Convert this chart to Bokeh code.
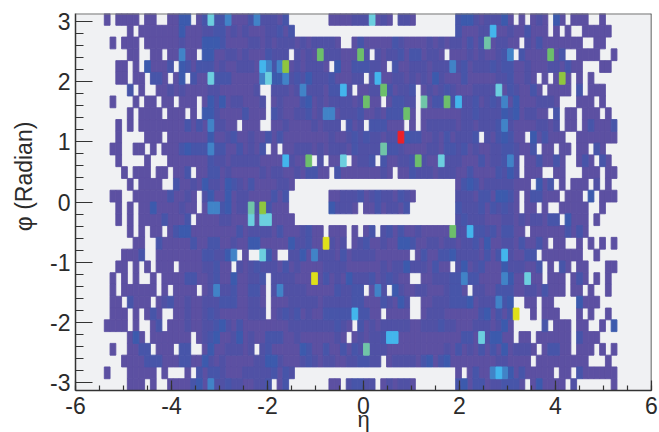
from bokeh.plotting import figure
from bokeh.models import ColumnDataSource, FixedTicker, Span
from bokeh.embed import file_html
from bokeh.resources import INLINE
import math

FIRST_COL = -45          # eta bin index of the first character in each row
ETA_BIN = 0.12
PHI_BINS = 32
D25 = "..... ..... ..... ..... ....."

# occupancy levels, row by row from phi=+pi downward ('.' = empty bin)
ROWS = [
"1.1111.11..1144.1373 | 35 111 35 222 1 3 ....... 1111 222 7 1 2 1 . 22 1 .... | ... 3 4 4 2 1 222 4 1 . 1 . 1 2 1 . 4 1 . 111 .. 1 .",
".... 1 . 1111111 4 111 22 3 | 3 1 2 1 2 111 22 3 1 3 " + D25 + " | ... 3 111 22 6 1 1 2 11 3 111 . 1 . 1 .. 11111",
". 1 . 111 . 111111 2 111 44 4 | 3 1111 22 1 2 1 222 1 2 1 2222 1 .. 1 3 11111 3 2 1111 2 1 | 2 1 2 2 1 3 1 3 8 1 2 2 1 1 . 2 1 3 1111111 .. 11 .",
".... 11 .. 11 . 11 5 11 . 44 1 | 1 22 1 2 111 3 222 . 2 1 2 1 9 222 111 9 2 . 2 1 22 3 1 33 1 22 | 1 . 111 2 1 2 11 2 3 5 . 3 1111 9 1 3 .. 1111 .. 1",
".. 11 . 1 . 4 111 3 . 4 3 1 333 1 | 2 11 222 1 6 5 3 5 a 1 2 1 2 22 1 . 4 11 333 22 1 . 3 11 2 22 1 2 | 22 5 2 3 1 222 3 2 33 11 2 111 22 1 3 11 ... 11",
".. 11 . 11 . 33 1 . 1 4 . 3 11 7 3 | 3 3 11111 5 7 44 5 2 3 2 4 222 3 111 22 . 2 6 11 22 1 2 1 2 1 4 | 2 1 1 1 3 11111 22 3 11 2 1 . 1 . 1 a 1 . 1 . 1",
".... 3 . 1 .. 11 2 1 2 1111 22 | 111111 2 .. 222 1 2 5 2 22 1 33 6 2 . 11 22 9 3 1 22 3 . 1 2 1 | 2 3 2 111 2222 7 1 3 2 11 3 1 . 1111 . 3 . 111",
". 1 ... 1 . 11 . 11 . 111 . 1 4 2 | 4 1 22 111 2 . 1 2 1 11 3 4 1 2 1 2222 1 2 9 11 . 1 33 2 2 . 8 1 3 | 3 9 3 6 22 3 1 2 3 2 5 1 4 111 222 1 ... 111 . 1",
".... 1 . 1111 . 111 . 1 . 44 2 | 1111 3 111 . 3 2 11 22 3 1 2 55 1 22 2 3 11 2 1 33 3 9 1 . 111 | 1111 22 3 2 222 4 3 4 1 22 11 . 3 . 11 . 111 . 1",
".. 1 . 1 . 11111111 3 1 3 1 5 2 | 2 11 . 111 .. 11 2 1111 2 1 222 . 3 1 2 . 333 111 . 1 . 1 22 | 222 1 22 1 222 3 5 2 1111 22 1 2 . 11 . 1 3 111 3",
".. 1 .... 111 . 1111111 4 1 | 1 2 3 11 2 11 3 1 3 11111111 2 11 2 3 2 3 22 1 22 c 4 33 11 2 | 1 3 1 222 3 . 2 1 3 4 3 11 . 4 1 3 111 .. 1111111",
". 11 .. 11 . 1 . 111 3 4 333 5 3 | 3 11 3 1 2 1 3 . 1 . 11 222 1 2 1 222 1 3 2222 8 33 2 1111 22 | 1 3 3 2 3 1 2 11 2 2 3 3 2 11 3 . 11 . 11 . 11 . 3 1",
".. 1 .... 1 ... 1111111 3 2 | 2 1 22222 1111 6 2 11 9 . 2 . 11 7 . 1 22 3 . 3 11 22 3 9 2 1 1 | 7 222 111 3 1 22 3 5 2 . 11 3 11 3 1 .. 1 3 1 . 3 1",
"... 1 . 111 . 11 . 11 3 . 11 33 | 1 2 11111 2 1 22 11 2 1 3 3 11 . 3 1111111 2 1 . 11 3 222 1 | 222 11 3 1111 3 2 4 2 . 111 .. 11 ... 111 . 11",
".... 1 . 1111 .. 3 11 2 1 4 22 | 1 4 3 2 1 3 1111 22 1 " + D25 + " | ... 1 3 4 3 1 22222 111 . 4 1 3 . 1 . 111 . 2 . 1",
". 11 .. 111111 3 11 2 1 . 2 4 1 | 1 4 1 22 1111 3 1 3 ....... 11 222 3 1 2 3 22 1 3 2 1 .... | ... 222 1 33 1 44 3 1 . 1 33 111 . 111 . 4 . 111",
".. 1 . 1 . 11 4 1111 2 11 . 1 55 | 3 4 1 22 8 2 a 3 111 ....... 4 222 1 . 11 3 1 22 1 3 ..... | ... 3 222 3 1 3 2 3 2 1 . 11 . 1 .. 11111 .. 1",
".. 1 . 1 . 1111 3 111 3 . 1111 | 22 111 7 1 77 1111 " + D25 + " | ... 2 3 222 111 22 1 2 1 22 1 33 . 4 111 . 1",
".... 1 . 1 . 11 . 1 3 4 4 11111 | 111 3 1 2222 1 3 111 2 3 11 . 111 . 1 . 1 3 . 2 3 1 3 11 2 111 | 11 9 22 6 33 2 3 1 33 11 . 111111 3 1 3 1",
"..... 11 .. 3 11111 3 11 33 | 11 2 11 44 11111 4 22 3 11 b 2 1 2 . 1 2 3 11 2 11 44 3 11 22 | 1 22 1 22 3 1 4 11 22 1 3 11 3 1 . 11 .. 1 . 1 . 1 . 1",
"... 111 3 .. 11111111 33 2 | 2 4 5 . 1 .. 7 4 1 .. 22 4 1 5 222 1 3 1 2 2 2 2 1 11111 . 1 3 11 | 3 3 4 2222 1 3 1 3 6 2 11 33 . 1111111 .. 1",
".. 11 . 1 . 1 . 111 . 1 111 2 2 3 | 11 . 2 1 2 3 2 22 1 3 1 2 1 111 2222 11 11 11 2 1 2 2 4 22 2 1 3 | 11 . 2 4 1 2 3 111 4 2 22 11 3 . 1 . 3 1 . 11 ... 11",
". 1 . 1 . 1 .. 1 . 1111 33 11 2 3 | 11 4 11 22 3 . 2222 11 1 b 1 3 1 2 1 4 222 3 1 2 3 2 11 .. 11 2 | 2 2 3 3 5 3 3 1111 5 4 11 7 11 . 111 . 1 3 1 . 1 . 1",
". 1 . 111111 . 1 . 1111 . 1 2 5 | 22 3 11 33 1 . 2 5 22 22 11111 3 22 33 . 1 5 2 . 4 2 11 22 11 | 1 2 33 1 . 22 11 333 11 22 1 3 111 . 11 . 1 .. 1",
". 11 . 3 111 . 1 2 3 11 2 11 222 | 333 11 22 1 . 111 22222 1 22222 33 111 3 2 1 4 2 .. 11 2 | 22 333 4 1 222 5 3 4 .. 11 . 11 .... 4 111",
". 111 . 1 . 1 3 1 .. 11 2 11 2 3 2 | 11111 222 . 1 2 3 2 3 1 2 11 33333 6 33 11 . 1111 .. 1 22 | 2 111 111 3 4 1 3 1 3 b .. 1 . 111 ... 1 . 1 .. 1",
"1111 . 1 .. 1 3 . 111 2 11 22 3 | 4 2 1 3 1 1111111 22222222 3 2 1 . 3 1 2 1 22222 11 222 | 3 22 111 222 1 2 4 1 ..... 3 . 111 . 11 .. 1 . 4",
".... 1 4 1 . 111111 1 . 1 2 3 4 | 11 2 4 1 2 11 333 11 2 111111 2 1 . 1 2 1 22 3 66 111 1111 | 111 1 33 1 7 2 44 11 . 11 . 111111 . 3 111",
". 1 .. 11 33 . 111 . 33 .. 1 4 1 | 1 222 1 2 . 2 3 1 1111 4 3 11 3 11 3 1 3 2 8 222 111111111 | 1 2 1 3 1 2 1 3 1 3 1 4 1 222 1 . 1 33 11 . 111 . 1 . 1",
"... 1111 33 3 111 33 11 4 2 1 | 2 11111 22 44 2 111 2 3 2 1 22 11 22 33 22 . 1 2222 1 3 4 1 | 3 4 11111111 22 1111 . 111111111 ... 1",
"1 ... 11111 . 1 ... 1 . 3 1 33 | 2 1 11 22222 3 1 3 2 " + D25 + " | ... 1 . 1 3 11 5 6 5 4 1 3 1 1111 . 11 . 3 111111",
".... 111 . 1 .. 1111 3 4 1 5 2 | 2 3 22 11 22 3 . 1 3 ....... 11 . 23322 . 1 2 1 22 1 .... | ... 3 4 1 33 1 22 3 33 1 . 1 4 1111 . 2 ...... 1",
]

# colour of each occupancy level
LEVELS = "123456789abc"
LEVEL_COLORS = ["#5c50a2", "#5051a5", "#4755a9", "#3c5aad", "#4183c7", "#43b5ec",
                "#6ccfdf", "#70c5a8", "#6dbf6b", "#8fc63f", "#dfe01a", "#ec2027"]

X_TICKS = [-6, -4, -2, 0, 2, 4, 6]
X_LABELS = ["-6", "-4", "-2", "0", "2", "4", "6"]
Y_TICKS = [-3, -2, -1, 0, 1, 2, 3]
Y_LABELS = ["-3", "-2", "-1", "0", "1", "2", "3"]
X_TITLE = "η"
Y_TITLE = "\u00a0" * 8 + "φ (Radian)"   # leading spaces lift the title above the axis centre

cells = []
dphi = 2 * math.pi / PHI_BINS
for r, row in enumerate(ROWS):
    chars = row.replace(" ", "").replace("|", "")
    for i, ch in enumerate(chars):
        if ch != ".":
            cells.append((LEVELS.index(ch), FIRST_COL + i, r))
cells.sort()   # brighter cells are drawn last
source = ColumnDataSource(dict(
    left=[k * ETA_BIN for _, k, _r in cells],
    right=[(k + 1) * ETA_BIN for _, k, _r in cells],
    top=[math.pi - r * dphi for _, _k, r in cells],
    bottom=[math.pi - (r + 1) * dphi for _, _k, r in cells],
    color=[LEVEL_COLORS[l] for l, _k, _r in cells],
))

p = figure(width=659, height=432, frame_width=576, frame_height=377,
           x_range=(-6, 6), y_range=(-math.pi, math.pi),
           output_backend="svg", toolbar_location=None,
           min_border_left=75, min_border_right=8, min_border_top=13, min_border_bottom=0,
           background_fill_color="#f0f1f3", border_fill_color="white")
p.quad(left="left", right="right", top="top", bottom="bottom", source=source,
       fill_color="color", line_color="color", line_width=0.9)
p.grid.visible = False
p.outline_line_color = None

FONT = "Liberation Sans"
INK = "#2b2b2b"
ax = p.xaxis[0]
ax.ticker = FixedTicker(ticks=X_TICKS, minor_ticks=[-6 + 0.5 * i for i in range(25)])
ax.major_label_overrides = dict(zip(X_TICKS, X_LABELS))
ax.major_tick_in, ax.major_tick_out = 10, 0
ax.minor_tick_in, ax.minor_tick_out = 5, 0
ay = p.yaxis[0]
ay.ticker = FixedTicker(ticks=Y_TICKS, minor_ticks=[-3 + 0.2 * i for i in range(31)])
ay.major_label_overrides = dict(zip(Y_TICKS, Y_LABELS))
ay.major_tick_in, ay.major_tick_out = 17, 0
ay.minor_tick_in, ay.minor_tick_out = 8, 0
for a, title, fs, st, lab_st in ((ax, X_TITLE, "22px", -10, 6), (ay, Y_TITLE, "23px", 10, 5)):
    a.axis_line_color = "#333333"
    a.axis_line_width = 1.5
    a.major_tick_line_color = "#333333"
    a.minor_tick_line_color = "#333333"
    a.major_tick_line_width = 1.2
    a.minor_tick_line_width = 1.2
    a.major_label_text_font = FONT
    a.major_label_text_font_size = "23px"
    a.major_label_text_color = INK
    a.major_label_standoff = lab_st
    a.axis_label = title
    a.axis_label_text_font = FONT
    a.axis_label_text_font_size = fs
    a.axis_label_text_font_style = "normal"
    a.axis_label_text_color = INK
    a.axis_label_standoff = st

p.add_layout(Span(location=math.pi, dimension="width", line_color="#777777", line_width=2))
p.add_layout(Span(location=6, dimension="height", line_color="#333333", line_width=1.5))

open("out.html", "w").write(file_html(p, INLINE))
